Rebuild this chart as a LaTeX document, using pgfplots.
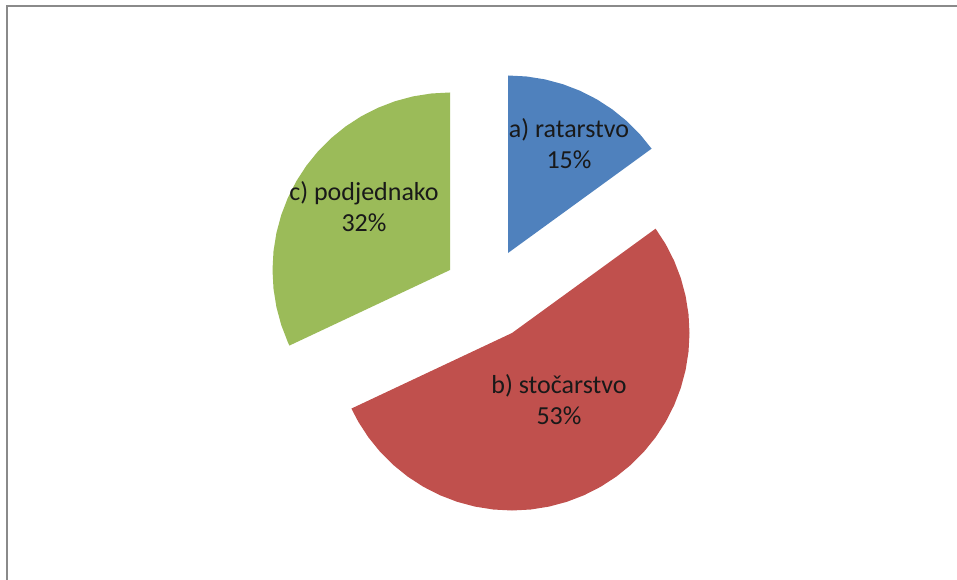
\documentclass[border=0pt]{standalone}
\usepackage{pgfplots}
\pgfplotsset{compat=1.18}
\usepackage{fontspec}
\setmainfont{Carlito}
\definecolor{cBlue}{HTML}{4F81BD}
\definecolor{cRed}{HTML}{C0504D}
\definecolor{cGreen}{HTML}{9BBB59}
\definecolor{cFrame}{HTML}{8A8A8A}
\begin{document}
\begin{tikzpicture}
% shares: a) 15%, b) 53%, c) 32%  -> 54.0, 190.8, 115.2 degrees, from 90 deg clockwise
\begin{axis}[
  scale only axis, width=957pt, height=580pt,
  xmin=0, xmax=957, ymin=0, ymax=580, y dir=reverse,
  hide axis, clip=false,
]
% a) ratarstvo 15% : 90 -> 36
\addplot[fill=cBlue, draw=none] table[
  x expr={508+\thisrow{r}*cos(\thisrow{a})},
  y expr={253-\thisrow{r}*sin(\thisrow{a})}] {
a r
90 0
90 177.5
84 177.5
78 177.5
72 177.5
66 177.5
60 177.5
54 177.5
48 177.5
42 177.5
36 177.5
};
% b) stocarstvo 53% : 36 -> -154.8
\addplot[fill=cRed, draw=none] table[
  x expr={512+\thisrow{r}*cos(\thisrow{a})},
  y expr={333-\thisrow{r}*sin(\thisrow{a})}] {
a r
36 0
36 177.5
30 177.5
24 177.5
18 177.5
12 177.5
6 177.5
0 177.5
-6 177.5
-12 177.5
-18 177.5
-24 177.5
-30 177.5
-36 177.5
-42 177.5
-48 177.5
-54 177.5
-60 177.5
-66 177.5
-72 177.5
-78 177.5
-84 177.5
-90 177.5
-96 177.5
-102 177.5
-108 177.5
-114 177.5
-120 177.5
-126 177.5
-132 177.5
-138 177.5
-144 177.5
-150 177.5
-154.8 177.5
};
% c) podjednako 32% : 205.2 -> 90
\addplot[fill=cGreen, draw=none] table[
  x expr={450+\thisrow{r}*cos(\thisrow{a})},
  y expr={270-\thisrow{r}*sin(\thisrow{a})}] {
a r
90 0
205.2 177.5
204 177.5
198 177.5
192 177.5
186 177.5
180 177.5
174 177.5
168 177.5
162 177.5
156 177.5
150 177.5
144 177.5
138 177.5
132 177.5
126 177.5
120 177.5
114 177.5
108 177.5
102 177.5
96 177.5
90 177.5
};
\draw[cFrame, line width=2.5pt] (axis cs:7,580) -- (axis cs:7,6) -- (axis cs:957,6);
\node[align=center, font=\fontsize{26}{31}\selectfont, text=black!90] at (axis cs:569,144) {a) ratarstvo\\15\%};
\node[align=center, font=\fontsize{26}{31}\selectfont, text=black!90] at (axis cs:559,400) {b) stočarstvo\\53\%};
\node[align=center, font=\fontsize{26}{31}\selectfont, text=black!90] at (axis cs:364,207) {c) podjednako\\32\%};
\end{axis}
\pgfresetboundingbox
\path (current axis.south west) rectangle (current axis.north east);
\end{tikzpicture}
\end{document}
